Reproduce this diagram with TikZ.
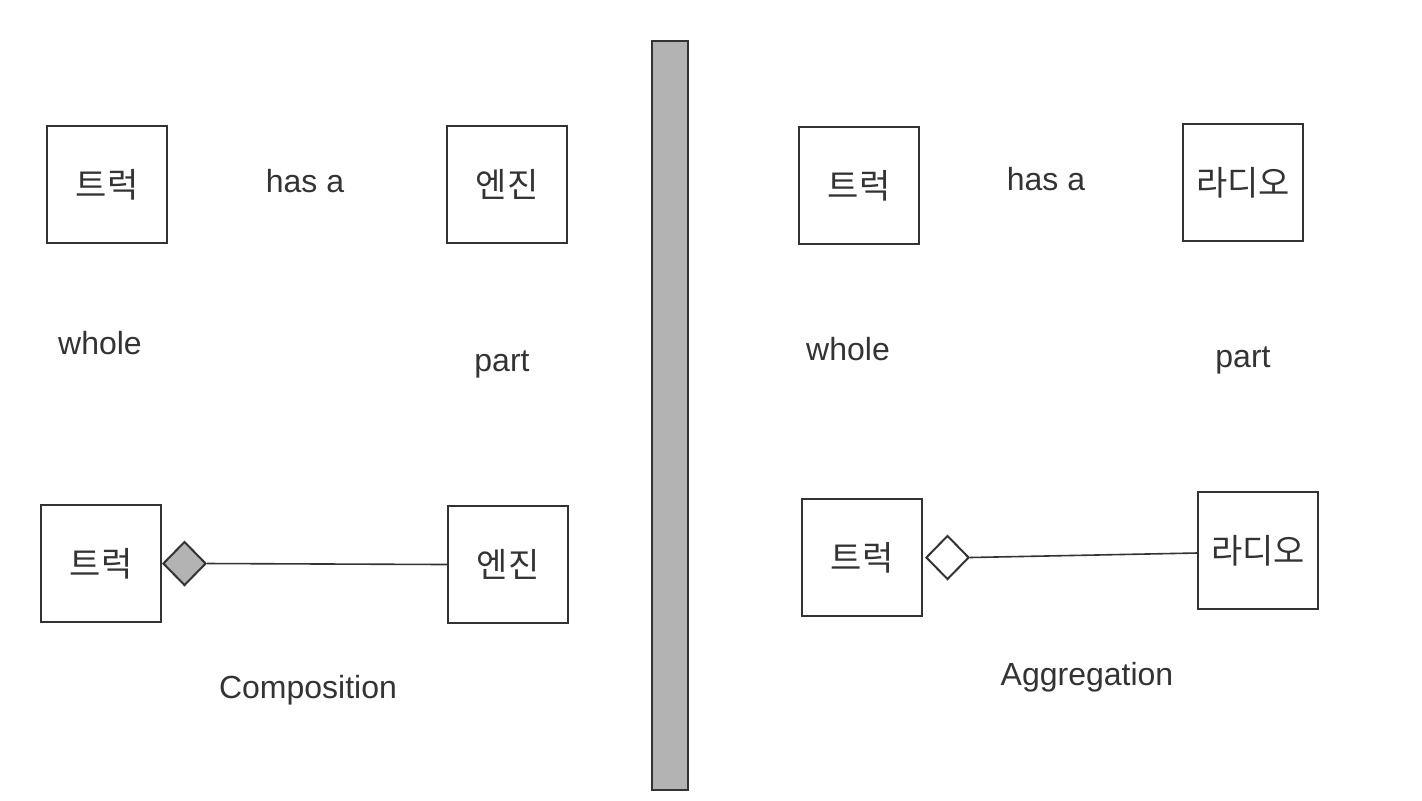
\documentclass[tikz,border=0pt]{standalone}
\usepackage{fontspec}
\setmainfont{Liberation Sans}
\newfontfamily\kr{Noto Sans CJK KR}
\usetikzlibrary{positioning,shapes.geometric}
\definecolor{ink}{HTML}{333333}
\definecolor{barfill}{HTML}{B3B3B3}

\begin{document}
\begin{tikzpicture}[x=0.5pt,y=-0.5pt,every node/.style={font=\fontsize{16}{19}\selectfont,text=ink},box/.style={draw=ink,line width=1pt,minimum width=60pt,minimum height=58.5pt,inner sep=0pt,font=\kr\fontsize{17}{20}\selectfont},dia/.style={diamond,draw=ink,line width=1pt,minimum width=21.5pt,minimum height=22pt,inner sep=0pt,anchor=west},link/.style={draw=ink,line width=0.8pt}]
\useasboundingbox (0,0) rectangle (1422,800);
% composition
\node[box] (truckA) at (107,184.5) {트럭};\node (hasA) at (305,181) {has a};\node[box] (engineA) at (507,184.5) {엔진};
\node (wholeA) at (100,343) {whole};\node (partA) at (502,364) {part};
\node[box] (truckB) at (101,563.5) {트럭};\node[box] (engineB) at (508,564.5) {엔진};
\node[dia,fill=barfill] (comp) at (truckB.east) {};
\draw[link] (comp.east) -- (engineB.west);
\node (compText) at (308,690) {Composition};
% separator
\draw[fill=barfill,draw=ink,line width=1pt] (652,41) rectangle (688,790);
% aggregation
\node[box] (truckC) at (859,185.5) {트럭};\node (hasB) at (1046,179) {has a};\node[box] (radioA) at (1243,182.5) {라디오};
\node (wholeB) at (848,349) {whole};\node (partB) at (1243,360) {part};
\node[box] (truckD) at (862,557.5) {트럭};\node[box] (radioB) at (1258,550.5) {라디오};
\node[dia,fill=white] (aggr) at ([xshift=1pt]truckD.east) {};
\draw[link] (aggr.east) -- ([yshift=-1.25pt]radioB.west);
\node (aggrText) at (1087,677) {Aggregation};
\end{tikzpicture}
\end{document}
